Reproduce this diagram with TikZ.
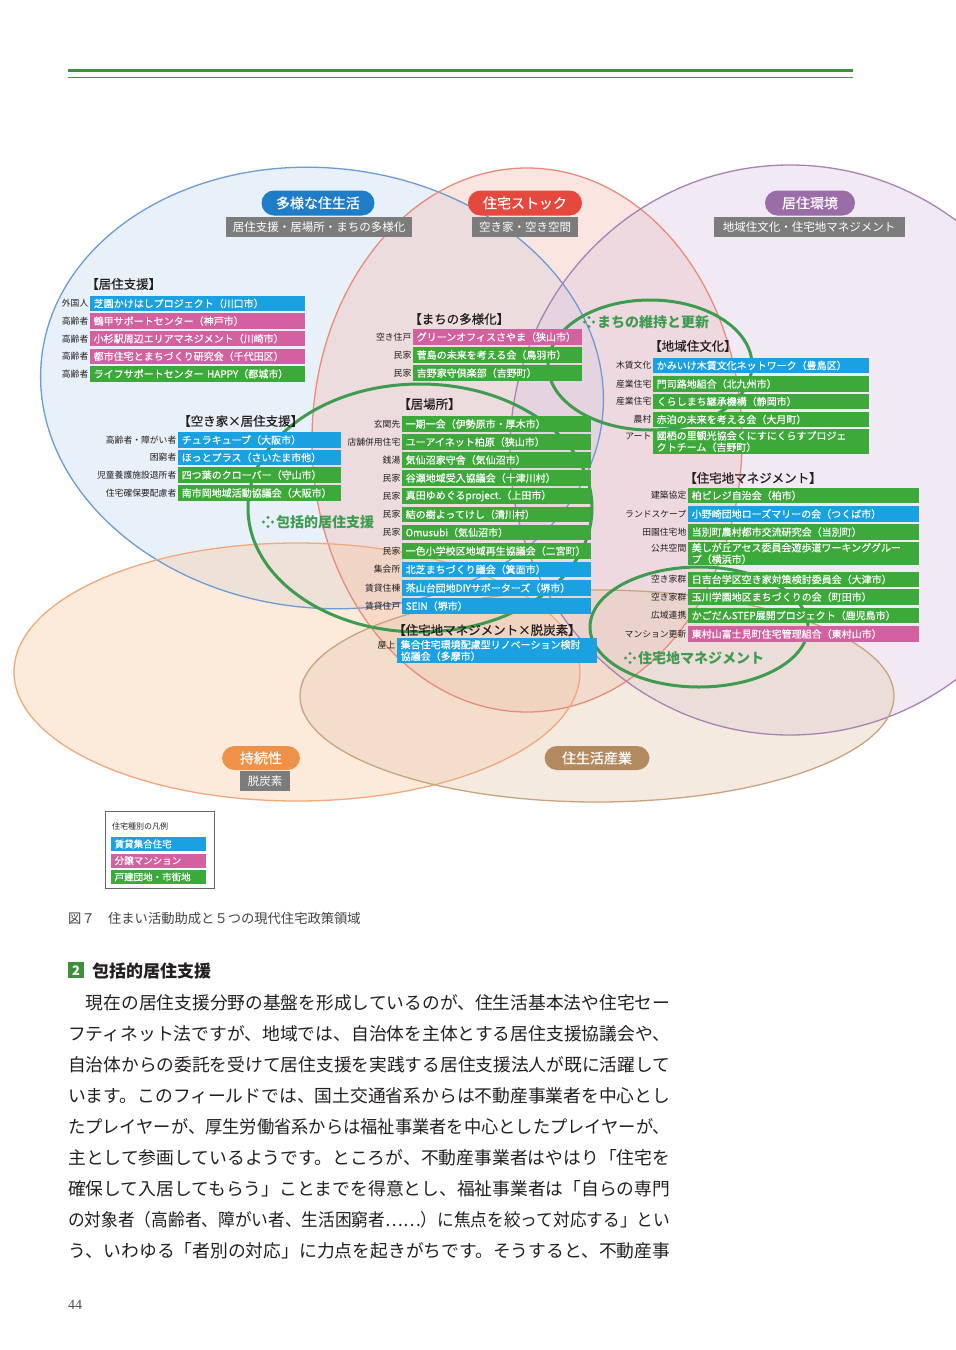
\documentclass[tikz,border=0pt]{standalone}
\usepackage{fontspec}
\setmainfont{Noto Sans CJK JP}
\newfontfamily\medfont{Noto Sans CJK JP}[FakeBold=0.5]
\newfontfamily\serif{Liberation Serif}
\usepackage{graphicx}
\definecolor{bxblue}{HTML}{1AA1E2}
\definecolor{bxpink}{HTML}{D3619F}
\definecolor{bxgreen}{HTML}{3DA93A}
\definecolor{cgreen}{HTML}{3E9B50}
\definecolor{rgreen}{HTML}{3F8F3C}
\definecolor{pblue}{HTML}{1F7DC7}
\definecolor{pred}{HTML}{E5493E}
\definecolor{ppurple}{HTML}{9A6CA8}
\definecolor{porange}{HTML}{EE9149}
\definecolor{ptan}{HTML}{B38A5F}
\definecolor{gbox}{HTML}{7C7C7C}
\definecolor{lblue}{HTML}{6C9BD6}
\definecolor{lred}{HTML}{E98B7C}
\definecolor{lpurple}{HTML}{A882B2}
\definecolor{lorange}{HTML}{F1A97B}
\definecolor{ltan}{HTML}{C8A47E}
\definecolor{fblue}{HTML}{C6DAF2}
\definecolor{fred}{HTML}{F4C0B6}
\definecolor{fpurple}{HTML}{DCC8E1}
\definecolor{forange}{HTML}{F8CBA6}
\definecolor{ftan}{HTML}{E4CCB1}
\definecolor{txt}{HTML}{231F20}

\newcommand\itm[7]{%
  \node[ibox,fill=#5,text width=#4pt,anchor=west] (#1) at (#2,#3) {#7};
  \node[ilbl] (#1l) at ([xshift=-1.5pt]#1.west) {#6};}
\newcommand\fdots[2]{%
  \foreach \dx/\dy in {-4.5/0,4.5/0,0/-4.5,0/4.5}{\fill[cgreen] (#1+\dx,#2+\dy) circle (1.7);}}
\newcommand\bline[3]{\node[bodyl] (#1) at (68,#2) {\resizebox{602pt}{\height}{#3}};}

\begin{document}
\begin{tikzpicture}[x=1pt,y=-1pt,
  ibox/.style={rectangle,inner xsep=3.5pt,inner ysep=0pt,minimum height=15.5pt,text=white,font=\medfont\fontsize{10}{11.5}\selectfont,align=left},
  ilbl/.style={anchor=east,inner sep=0pt,text=txt,font=\fontsize{8.8}{10}\selectfont},
  ghead/.style={anchor=west,inner sep=0pt,text=txt,font=\medfont\fontsize{12.5}{14}\selectfont},
  pill/.style={rounded corners=12.5pt,minimum height=25pt,text=white,font=\medfont\fontsize{14}{16}\selectfont,inner sep=0pt},
  gray/.style={fill=gbox,minimum height=20pt,text=white,font=\fontsize{11.5}{13}\selectfont,inner sep=0pt},
  clabel/.style={anchor=west,inner sep=0pt,text=cgreen,font=\fontsize{14}{16}\selectfont\bfseries},
  gring/.style={draw=cgreen,line width=3pt},
  bodyl/.style={anchor=west,inner sep=0pt,text=txt,font=\fontsize{17.7}{20}\selectfont},
]
\useasboundingbox (0,0) rectangle (956,1350);
\fill[white] (0,0) rectangle (956,1350);
% top rule
\draw[rgreen,line width=3pt] (68,70) -- (853,70);
\draw[rgreen,line width=0.8pt] (68,77) -- (853,77);

% ellipses
\coordinate (cB) at (322,388);
\coordinate (cR) at (527,440);
\coordinate (cP) at (790,450);
\coordinate (cO) at (297,672);
\coordinate (cT) at (597,696);
\begin{scope}[fill opacity=0.4]
 \fill[fblue,rotate around={-6:(cB)}] (cB) ellipse [x radius=282,y radius=220];
 \fill[fred] (cR) ellipse [x radius=215,y radius=272];
 \fill[fpurple] (cP) ellipse [x radius=280,y radius=285];
 \fill[forange] (cO) ellipse [x radius=283,y radius=129];
 \fill[ftan] (cT) ellipse [x radius=297,y radius=106];
\end{scope}
\draw[lblue,line width=1.3pt,rotate around={-6:(cB)}] (cB) ellipse [x radius=282,y radius=220];
\draw[lred,line width=1.3pt] (cR) ellipse [x radius=215,y radius=272];
\draw[lpurple,line width=1.3pt] (cP) ellipse [x radius=280,y radius=285];
\draw[lorange,line width=1.3pt] (cO) ellipse [x radius=283,y radius=129];
\draw[ltan,line width=1.3pt] (cT) ellipse [x radius=297,y radius=106];

% green rings
\draw[gring] (650,365) ellipse [x radius=102,y radius=65];
\draw[gring] (420,508) ellipse [x radius=172,y radius=124];
\draw[gring] (699,627) ellipse [x radius=109,y radius=60];

% pills
\node[pill,fill=pblue,minimum width=113pt] (p1) at (318,203) {多様な住生活};
\node[gray,minimum width=186pt] (s1) at (319,227) {居住支援・居場所・まちの多様化};
\node[pill,fill=pred,minimum width=114pt] (p2) at (525,203) {住宅ストック};
\node[gray,minimum width=106pt] (s2) at (525,227) {空き家・空き空間};
\node[pill,fill=ppurple,minimum width=90pt] (p3) at (810,203) {居住環境};
\node[gray,minimum width=191pt] (s3) at (809,227) {地域住文化・住宅地マネジメント};
\node[pill,fill=porange,minimum width=78pt,minimum height=24pt] (p4) at (261,758) {持続性};
\node[gray,minimum width=50pt] (s4) at (265,781) {脱炭素};
\node[pill,fill=ptan,minimum width=105pt,minimum height=24pt] (p5) at (597,758) {住生活産業};

% group 1
\node[ghead] (h1) at (86,284) {【居住支援】};
\itm{a1}{90}{303.5}{208}{bxblue}{外国人}{芝園かけはしプロジェクト（川口市）}
\itm{a2}{90}{321.1}{208}{bxpink}{高齢者}{鶴甲サポートセンター（神戸市）}
\itm{a3}{90}{338.7}{208}{bxpink}{高齢者}{小杉駅周辺エリアマネジメント（川崎市）}
\itm{a4}{90}{356.3}{208}{bxpink}{高齢者}{都市住宅とまちづくり研究会（千代田区）}
\itm{a5}{90}{373.9}{208}{bxgreen}{高齢者}{ライフサポートセンター HAPPY（都城市）}

% group 2
\node[ghead] (h2) at (409,319) {【まちの多様化】};
\itm{b1}{413}{337}{162}{bxpink}{空き住戸}{グリーンオフィスさやま（狭山市）}
\itm{b2}{413}{355}{162}{bxgreen}{民家}{菅島の未来を考える会（鳥羽市）}
\itm{b3}{413}{373}{162}{bxgreen}{民家}{吉野家守倶楽部（吉野町）}

% group 3
\node[ghead] (h3) at (649,346) {【地域住文化】};
\itm{c1}{653}{365.5}{209}{bxblue}{木賃文化}{かみいけ木賃文化ネットワーク（豊島区）}
\itm{c2}{653}{384}{209}{bxgreen}{産業住宅}{門司路地組合（北九州市）}
\itm{c3}{653}{401.5}{209}{bxgreen}{産業住宅}{くらしまち継承機構（静岡市）}
\itm{c4}{653}{419.5}{209}{bxgreen}{農村}{赤泊の未来を考える会（大月町）}
\node[ibox,fill=bxgreen,text width=209pt,anchor=west,minimum height=25pt] (c5) at (653,441.5) {國栖の里観光協会くにすにくらすプロジェ\\クトチーム（吉野町）};
\node[ilbl] (c5l) at ([xshift=-1.5pt,yshift=5pt]c5.west) {アート};

% group 4
\node[ghead] (h4) at (178,421) {【空き家×居住支援】};
\itm{d1}{178}{440}{156}{bxblue}{高齢者・障がい者}{チュラキューブ（大阪市）}
\itm{d2}{178}{457.5}{156}{bxblue}{困窮者}{ほっとプラス（さいたま市他）}
\itm{d3}{178}{475}{156}{bxgreen}{児童養護施設退所者}{四つ葉のクローバー（守山市）}
\itm{d4}{178}{493}{156}{bxgreen}{住宅確保要配慮者}{南市岡地域活動協議会（大阪市）}

% group 5
\node[ghead] (h5) at (398,404) {【居場所】};
\itm{e1}{402}{424}{182}{bxgreen}{玄関先}{一期一会（伊勢原市・厚木市）}
\itm{e2}{402}{442}{182}{bxgreen}{店舗併用住宅}{ユーアイネット柏原（狭山市）}
\itm{e3}{402}{460}{182}{bxgreen}{銭湯}{気仙沼家守舎（気仙沼市）}
\itm{e4}{402}{478}{182}{bxgreen}{民家}{谷瀬地域受入協議会（十津川村）}
\itm{e5}{402}{496}{182}{bxgreen}{民家}{真田ゆめぐるproject.（上田市）}
\itm{e6}{402}{514.5}{182}{bxgreen}{民家}{結の樹よってけし（清川村）}
\itm{e7}{402}{532.5}{182}{bxgreen}{民家}{Omusubi（気仙沼市）}
\itm{e8}{402}{551}{182}{bxgreen}{民家}{一色小学校区地域再生協議会（二宮町）}
\itm{e9}{402}{569.5}{182}{bxblue}{集会所}{北芝まちづくり議会（箕面市）}
\itm{e10}{402}{588}{182}{bxblue}{賃貸住棟}{茶山台団地DIYサポーターズ（堺市）}
\itm{e11}{402}{606}{182}{bxblue}{賃貸住戸}{SEIN（堺市）}

% group 6
\node[ghead] (h6) at (393,630) {【住宅地マネジメント×脱炭素】};
\node[ibox,fill=bxblue,text width=193pt,anchor=west,minimum height=25pt] (f1) at (397,650.5) {集合住宅環境配慮型リノベーション検討\\協議会（多摩市）};
\node[ilbl] (f1l) at ([xshift=-1.5pt,yshift=5pt]f1.west) {屋上};

% group 7
\node[ghead] (h7) at (684,478) {【住宅地マネジメント】};
\itm{m1}{688}{495.5}{224}{bxgreen}{建築協定}{柏ビレジ自治会（柏市）}
\itm{m2}{688}{514}{224}{bxblue}{ランドスケープ}{小野崎団地ローズマリーの会（つくば市）}
\itm{m3}{688}{532}{224}{bxgreen}{田園住宅地}{当別町農村都市交流研究会（当別町）}
\node[ibox,fill=bxgreen,text width=224pt,anchor=west,minimum height=23pt] (m4) at (688,553.5) {美しが丘アセス委員会遊歩道ワーキンググルー\\プ（横浜市）};
\node[ilbl] (m4l) at ([xshift=-1.5pt,yshift=5pt]m4.west) {公共空間};
\itm{m5}{688}{579.5}{224}{bxgreen}{空き家群}{日吉台学区空き家対策検討委員会（大津市）}
\itm{m6}{688}{597}{224}{bxgreen}{空き家群}{玉川学園地区まちづくりの会（町田市）}
\itm{m7}{688}{615.5}{224}{bxgreen}{広域連携}{かごだんSTEP展開プロジェクト（鹿児島市）}
\itm{m8}{688}{634}{224}{bxpink}{マンション更新}{東村山富士見町住宅管理組合（東村山市）}

% ring labels
\fdots{589}{322}
\node[clabel] (r1) at (597,322) {まちの維持と更新};
\fdots{268}{522}
\node[clabel] (r2) at (276,522) {包括的居住支援};
\fdots{630}{658}
\node[clabel] (r3) at (638,658) {住宅地マネジメント};

% legend
\node[draw=black!60,line width=0.6pt,minimum width=109pt,minimum height=77pt,anchor=north west,inner sep=0pt] (lg) at (105,811) {};
\node[anchor=west,inner sep=0pt,font=\fontsize{8}{9}\selectfont,text=txt] (lgt) at (112,826) {住宅種別の凡例};
\node[ibox,fill=bxblue,anchor=west,text width=88pt,minimum height=14pt,font=\medfont\fontsize{9.5}{10}\selectfont] (lg1) at (111,844) {賃貸集合住宅};
\node[ibox,fill=bxpink,anchor=west,text width=88pt,minimum height=14pt,font=\medfont\fontsize{9.5}{10}\selectfont] (lg2) at (111,860.5) {分譲マンション};
\node[ibox,fill=bxgreen,anchor=west,text width=88pt,minimum height=14pt,font=\medfont\fontsize{9.5}{10}\selectfont] (lg3) at (111,877) {戸建団地・市街地};

% caption
\node[anchor=west,inner sep=0pt,text=txt!85,font=\fontsize{13.3}{15}\selectfont] (cap) at (68,918) {図７　住まい活動助成と５つの現代住宅政策領域};

% section heading
\node[fill=rgreen,minimum size=16pt,inner sep=0pt,text=white,font=\fontsize{13}{14}\selectfont\bfseries,anchor=north west] (sq) at (68,962) {2};
\node[anchor=west,inner sep=0pt,text=txt,font=\fontsize{17}{19}\selectfont\bfseries] (sh) at (92,971) {包括的居住支援};

% body
\bline{t1}{1003}{　現在の居住支援分野の基盤を形成しているのが、住生活基本法や住宅セー}
\bline{t2}{1034}{フティネット法ですが、地域では、自治体を主体とする居住支援協議会や、}
\bline{t3}{1065}{自治体からの委託を受けて居住支援を実践する居住支援法人が既に活躍して}
\bline{t4}{1096}{います。このフィールドでは、国土交通省系からは不動産事業者を中心とし}
\bline{t5}{1127}{たプレイヤーが、厚生労働省系からは福祉事業者を中心としたプレイヤーが、}
\bline{t6}{1158}{主として参画しているようです。ところが、不動産事業者はやはり「住宅を}
\bline{t7}{1189}{確保して入居してもらう」ことまでを得意とし、福祉事業者は「自らの専門}
\bline{t8}{1220}{の対象者（高齢者、障がい者、生活困窮者……）に焦点を絞って対応する」とい}
\bline{t9}{1251}{う、いわゆる「者別の対応」に力点を起きがちです。そうすると、不動産事}

\node[anchor=west,inner sep=0pt,text=txt!80,font=\serif\fontsize{14}{16}\selectfont] (pg) at (68,1305) {44};
\end{tikzpicture}
\end{document}
